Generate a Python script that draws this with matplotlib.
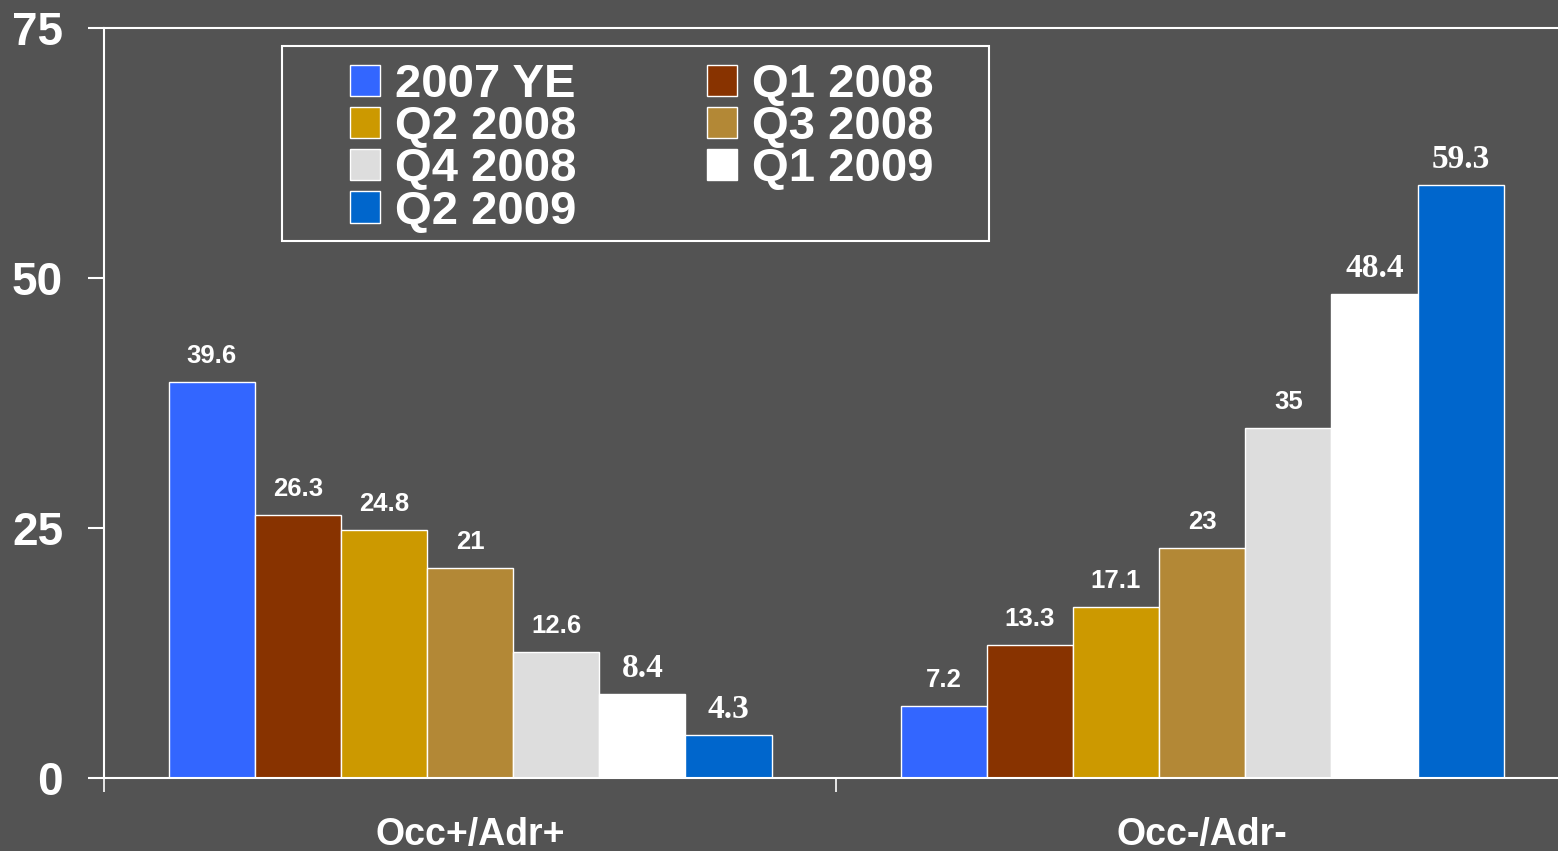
import numpy as np
import matplotlib.pyplot as plt
from matplotlib.patches import Rectangle, Patch

# ─── Data ─────────────────────────────────────────────────────────────────────
categories = ["Occ+/Adr+", "Occ-/Adr-"]
series     = ["2007 YE", "Q1 2008", "Q2 2008", "Q3 2008",
              "Q4 2008", "Q1 2009", "Q2 2009"]
occ_up     = [39.6, 26.3, 24.8, 21, 12.6, 8.4, 4.3]
occ_down   = [7.2, 13.3, 17.1, 23, 35, 48.4, 59.3]
yticks     = [0, 25, 50, 75]

COLORS = ["#3366FF", "#883300", "#CC9900", "#B38836",
          "#DDDDDD", "#FFFFFF", "#0066CC"]
BG     = "#535353"
SANS   = ["Liberation Sans", "DejaVu Sans"]
SERIF  = ["Liberation Serif", "DejaVu Serif"]

# ─── Figure ───────────────────────────────────────────────────────────────────
fig = plt.figure(figsize=(15.58, 8.51), dpi=100, facecolor=BG)
ax  = fig.add_axes([0.0668, 0.0858, 0.9397, 0.8813], facecolor=BG)

x     = np.arange(len(categories))
width = 0.1177
vals  = np.array([occ_up, occ_down]).T   # rows = series

for i, (name, color) in enumerate(zip(series, COLORS)):
    pos  = x + (i - (len(series) - 1) / 2) * width
    bars = ax.bar(pos, vals[i], width, color=color, edgecolor="white",
                  linewidth=1.0, zorder=2)
    serif = i >= 5   # last two series are labelled in a serif face
    for b, v in zip(bars, vals[i]):
        ax.annotate(f"{v:g}", (b.get_x() + b.get_width() / 2, b.get_height()),
                    xytext=(0, 7 if serif else 10), textcoords="offset points",
                    ha="center", va="bottom", color="white",
                    fontweight="bold",
                    fontsize=24 if serif else 18.5,
                    family=SERIF if serif else SANS)

# ─── Axes ─────────────────────────────────────────────────────────────────────
ax.set_xlim(-0.5, 1.5)
ax.set_ylim(0, 75)
ax.set_yticks(yticks)
ax.set_yticklabels([str(t) for t in yticks], family=SANS,
                   fontsize=33, fontweight="bold", color="white")
ax.tick_params(axis="y", direction="out", length=11.5, width=1.5,
               color="white", pad=18)

ax.set_xticks([-0.5, 0.5, 1.5])
ax.set_xticklabels([])
ax.tick_params(axis="x", which="major", direction="out", length=10,
               width=1.2, color="white")
ax.set_xticks(x, minor=True)
ax.set_xticklabels(categories, minor=True, family=SANS, fontsize=27,
                   fontweight="bold", color="white")
ax.tick_params(axis="x", which="minor", length=0, pad=28)

for side in ["left", "top", "bottom", "right"]:
    ax.spines[side].set_color("white")
    ax.spines[side].set_linewidth(1.5)

# ─── Legend ───────────────────────────────────────────────────────────────────
handles = [Patch(facecolor=c, edgecolor="white", linewidth=1.0, label=s)
           for s, c in zip(series, COLORS)]
order   = [0, 2, 4, 6, 1, 3, 5]   # fill row by row, two columns
leg = ax.legend([handles[k] for k in order], [series[k] for k in order],
                ncol=2, loc="upper left", bbox_to_anchor=(0.168, 0.953),
                borderaxespad=0, borderpad=0, frameon=False,
                handlelength=0.64, handleheight=0.64, handletextpad=0.32,
                columnspacing=2.75, labelspacing=-0.04,
                prop=dict(family=SANS, size=34, weight="bold"))
for t in leg.get_texts():
    t.set_color("white")

ax.add_patch(Rectangle((0.1216, 0.716), 0.4829, 0.26, transform=ax.transAxes,
                       fill=False, edgecolor="white", linewidth=1.5,
                       clip_on=False, zorder=3))

plt.savefig("out.png", dpi=100, facecolor=BG)
